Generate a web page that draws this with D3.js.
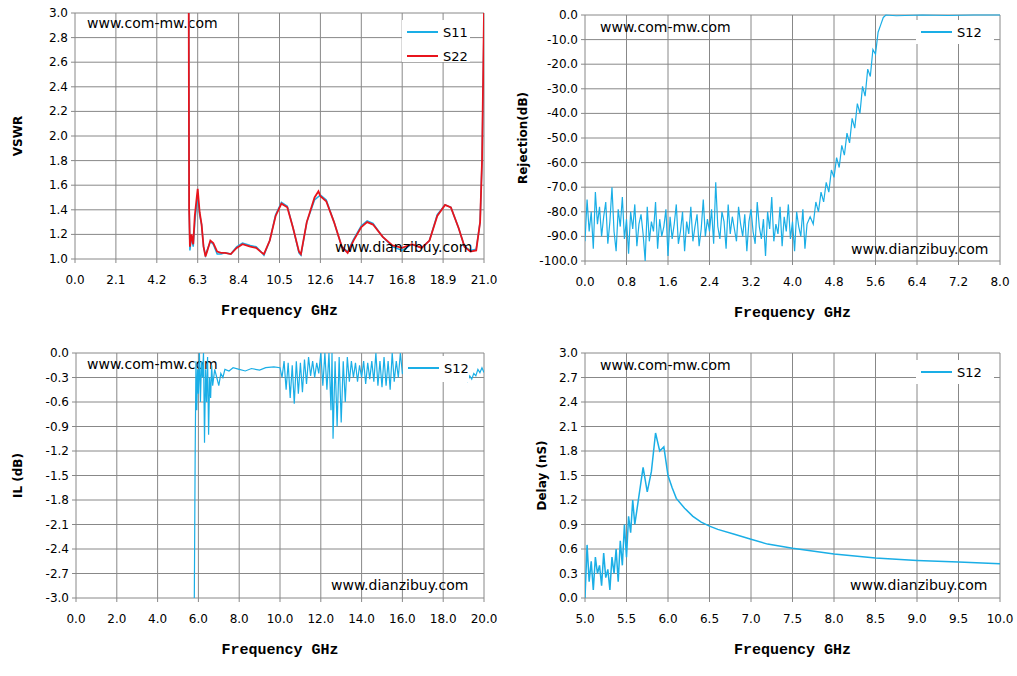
<!DOCTYPE html><html><head><meta charset="utf-8"><script src="https://cdn.jsdelivr.net/npm/d3@7"></script>
<style>body{margin:0;background:#fff}text{font-family:Tahoma,"DejaVu Sans",sans-serif}text.ax{font-family:"Liberation Mono",monospace}</style></head><body><svg id="c" width="1017" height="676"></svg><script>
const vswrTicksX=[0,2.1,4.2,6.3,8.4,10.5,12.6,14.7,16.8,18.9,21.0];
const s11=[[5.84,3.0],[5.86,1.45],[5.9,1.07],[5.98,1.18],[6.07,1.1],[6.15,1.3],[6.25,1.45],[6.3,1.5],[6.4,1.36],[6.5,1.28],[6.6,1.1],[6.7,1.03],[6.8,1.08],[6.95,1.14],[7.1,1.12],[7.3,1.04],[7.5,1.04],[7.7,1.05],[8.0,1.04],[8.3,1.1],[8.6,1.13],[9.0,1.11],[9.3,1.1],[9.6,1.05],[9.7,1.03],[10.0,1.15],[10.3,1.36],[10.6,1.46],[10.9,1.43],[11.2,1.25],[11.5,1.05],[11.6,1.03],[11.9,1.3],[12.3,1.48],[12.6,1.52],[12.9,1.48],[13.3,1.3],[13.7,1.1],[14.0,1.06],[14.3,1.16],[14.7,1.27],[15.0,1.31],[15.3,1.29],[15.8,1.18],[16.3,1.1],[16.8,1.07],[17.3,1.12],[17.8,1.09],[18.2,1.15],[18.6,1.36],[19.0,1.44],[19.3,1.42],[19.7,1.25],[20.0,1.1],[20.3,1.07],[20.6,1.08],[20.8,1.3],[20.9,1.8],[21.0,2.9]];
const s22=[[5.84,3.0],[5.86,1.4],[5.9,1.1],[5.98,1.2],[6.07,1.12],[6.15,1.35],[6.25,1.5],[6.3,1.57],[6.4,1.38],[6.5,1.28],[6.6,1.1],[6.7,1.02],[6.8,1.07],[6.95,1.15],[7.1,1.13],[7.3,1.06],[7.5,1.05],[7.7,1.05],[8.0,1.04],[8.3,1.09],[8.6,1.12],[9.0,1.1],[9.3,1.09],[9.6,1.05],[9.7,1.04],[10.0,1.15],[10.3,1.35],[10.6,1.45],[10.9,1.42],[11.2,1.25],[11.5,1.06],[11.6,1.04],[11.9,1.3],[12.3,1.5],[12.5,1.55],[12.6,1.51],[12.9,1.47],[13.3,1.3],[13.7,1.1],[14.0,1.05],[14.3,1.15],[14.7,1.26],[15.0,1.3],[15.3,1.28],[15.8,1.18],[16.3,1.11],[16.8,1.09],[17.3,1.12],[17.8,1.09],[18.2,1.15],[18.6,1.35],[19.0,1.44],[19.3,1.42],[19.7,1.25],[20.0,1.1],[20.3,1.06],[20.6,1.07],[20.8,1.3],[20.9,1.8],[21.0,3.0]];
const rejNoise=[-92,-75,-88,-80,-95,-72,-85,-78,-90,-82,-76,-93,-84,-70,-88,-96,-79,-86,-74,-91,-83,-97,-80,-87,-77,-94,-85,-81,-89,-100,-78,-92,-84,-88,-76,-95,-83,-90,-86,-79,-98,-82,-91,-85,-77,-93,-88,-80,-96,-84,-89,-78,-92,-86,-81,-94,-87,-75,-90,-83,-88,-79,-93,-68,-86,-91,-80,-84,-95,-77,-89,-82,-87,-92,-78,-85,-90,-81,-96,-84,-79,-88,-93,-76,-86,-91,-83,-98,-80,-87,-74,-92,-85,-89,-78,-94,-82,-88,-77,-91,-84,-96,-80,-86,-90,-79,-95,-85];
const rejRise=[[4.34,-82],[4.4,-85],[4.45,-76],[4.5,-80],[4.55,-72],[4.6,-76],[4.65,-68],[4.7,-72],[4.75,-63],[4.8,-66],[4.85,-58],[4.9,-62],[4.95,-53],[5.0,-57],[5.05,-48],[5.1,-52],[5.15,-42],[5.2,-46],[5.25,-36],[5.3,-40],[5.35,-29],[5.4,-33],[5.45,-22],[5.5,-25],[5.55,-14],[5.6,-16],[5.65,-7],[5.7,-4],[5.75,-1],[5.8,0],[6.0,-0.3],[6.5,0],[7.0,-0.2],[7.5,0],[8.0,0]];
const ilData=[[5.8,-3.0],[5.84,-1.3],[5.88,-0.1],[5.92,-0.7],[5.96,-0.2],[6.0,-0.5],[6.05,0],[6.1,-0.6],[6.15,-0.1],[6.2,-0.3],[6.25,0],[6.3,-1.1],[6.35,-0.2],[6.4,-0.6],[6.45,-0.05],[6.5,-1.0],[6.55,-0.3],[6.6,-0.55],[6.65,-0.15],[6.7,-0.4],[6.8,-0.2],[6.9,-0.3],[7.0,-0.4],[7.1,-0.25],[7.2,-0.3],[7.3,-0.2],[7.5,-0.22],[7.7,-0.18],[8.0,-0.2],[8.3,-0.22],[8.6,-0.19],[9.0,-0.21],[9.3,-0.18],[9.7,-0.17],[10.0,-0.18],[10.1,-0.3],[10.2,-0.1],[10.3,-0.45],[10.4,-0.12],[10.5,-0.55],[10.6,-0.15],[10.7,-0.62],[10.8,-0.1],[10.9,-0.5],[11.0,-0.12],[11.1,-0.48],[11.2,-0.08],[11.3,-0.38],[11.4,-0.05],[11.5,-0.28],[11.6,-0.1],[11.7,-0.3],[11.8,-0.12],[11.9,-0.25],[12.0,0],[12.1,-0.4],[12.2,0],[12.3,-0.45],[12.4,0],[12.5,-0.7],[12.55,0],[12.6,-1.05],[12.7,-0.1],[12.8,-0.9],[12.9,-0.05],[13.0,-0.85],[13.1,-0.1],[13.2,-0.6],[13.3,-0.05],[13.4,-0.35],[13.5,-0.1],[13.6,-0.3],[13.7,-0.12],[13.8,-0.35],[13.9,-0.15],[14.0,-0.3],[14.1,-0.1],[14.2,-0.38],[14.3,-0.12],[14.4,-0.32],[14.5,-0.1],[14.6,-0.35],[14.7,0],[14.8,-0.4],[14.9,-0.1],[15.0,-0.42],[15.1,-0.05],[15.2,-0.4],[15.3,-0.1],[15.4,-0.45],[15.5,0],[15.6,-0.35],[15.7,-0.1],[15.8,-0.3],[15.9,0],[16.0,-0.25],[16.5,-0.2],[17.5,-0.22],[18.5,-0.2],[19.2,-0.35],[19.3,-0.28],[19.4,-0.32],[19.5,-0.25],[19.6,-0.28],[19.7,-0.2],[19.8,-0.24],[19.9,-0.18],[20.0,-0.24]];
const dlyNoise=[0,0.65,0.2,0.45,0.1,0.5,0.3,0.4,0.15,0.55,0.25,0.35,0.1,0.5,0.3,0.6,0.2,0.7,0.4,0.9,0.5,1.0,0.8,1.2,0.9];
const dlyTail=[[5.7,1.6],[5.75,1.3],[5.8,1.55],[5.85,2.02],[5.9,1.8],[5.95,1.85],[6.0,1.5],[6.05,1.35],[6.1,1.22],[6.2,1.1],[6.3,1.0],[6.4,0.93],[6.5,0.88],[6.6,0.84],[6.8,0.78],[7.0,0.72],[7.2,0.66],[7.5,0.61],[8.0,0.54],[8.5,0.49],[9.0,0.46],[9.5,0.44],[10.0,0.42]];
const rejData=rejNoise.map((v,i)=>[i*0.04,v]).concat(rejRise);
const dlyData=dlyNoise.map((v,i)=>[5+i*0.025,v]).concat(dlyTail);
const svg=d3.select("#c");
function panel(o){
 const g=svg.append("g");
 const x=d3.scaleLinear().domain(o.xd).range([o.l,o.r]);
 const y=d3.scaleLinear().domain(o.yd).range([o.b,o.t]);
 const xt=o.xt, yt=o.yt;
 xt.forEach(v=>g.append("line").attr("x1",x(v)).attr("x2",x(v)).attr("y1",o.t).attr("y2",o.b+4).attr("stroke","#888"));
 yt.forEach(v=>g.append("line").attr("x1",o.l-4).attr("x2",o.r).attr("y1",y(v)).attr("y2",y(v)).attr("stroke","#888"));
 xt.forEach(v=>g.append("text").attr("x",x(v)).attr("y",o.b+25).attr("text-anchor","middle").attr("font-size",12).text(v.toFixed(1)));
 yt.forEach(v=>g.append("text").attr("x",o.l-7).attr("y",y(v)+4).attr("text-anchor","end").attr("font-size",12).text(v.toFixed(1)));
 g.append("text").attr("class","ax").attr("x",(o.l+o.r)/2).attr("y",o.b+56).attr("text-anchor","middle").attr("font-weight","bold").attr("font-size",15).text("Frequency GHz");
 g.append("text").attr("transform",`translate(${o.yl},${(o.t+o.b)/2}) rotate(-90)`).attr("text-anchor","middle").attr("font-weight","bold").attr("font-size",12).text(o.ytitle);
 g.append("text").attr("x",o.w1[0]).attr("y",o.w1[1]).attr("font-size",14).text("www.com-mw.com");
 const clip="cl"+o.id;
 g.append("clipPath").attr("id",clip).append("rect").attr("x",o.l).attr("y",o.t-1).attr("width",o.r-o.l).attr("height",o.b-o.t+2);
 const line=d3.line().x(d=>x(d[0])).y(d=>y(d[1]));
 o.series.forEach(s=>g.append("path").attr("clip-path",`url(#${clip})`).attr("d",line(s.d)).attr("fill","none").attr("stroke",s.c).attr("stroke-width",s.w||1.5));
 g.append("text").attr("x",o.w2[0]).attr("y",o.w2[1]).attr("font-size",14).text("www.dianzibuy.com");
 const L=o.leg;
 g.append("rect").attr("x",L[0]).attr("y",L[1]).attr("width",L[2]).attr("height",L[3]).attr("fill","#fff");
 o.series.forEach((s,i)=>{const yy=L[1]+12+i*24;
  g.append("line").attr("x1",L[0]+5).attr("x2",L[0]+36).attr("y1",yy).attr("y2",yy).attr("stroke",s.c).attr("stroke-width",2);
  g.append("text").attr("x",L[0]+41).attr("y",yy+5).attr("font-size",13).text(s.n);});
}
const blue="#1aaee6", red="#e8141c";
panel({id:1,l:75,r:484,t:13,b:259,xd:[0,21],yd:[1,3],xt:vswrTicksX,yt:d3.range(1,3.01,0.2),ytitle:"VSWR",yl:22,w1:[87,28],w2:[335,252],leg:[402,20,68,42],
 series:[{n:"S11",c:blue,d:s11},{n:"S22",c:red,d:s22,w:1.8}]});
panel({id:2,l:585,r:1000,t:15,b:261,xd:[0,8],yd:[-100,0],xt:d3.range(0,8.01,0.8),yt:d3.range(-100,0.1,10),ytitle:"Rejection(dB)",yl:527,w1:[600,32],w2:[851,254],leg:[916,20,78,24],
 series:[{n:"S12",c:blue,d:rejData,w:1.2}]});
panel({id:3,l:76,r:484,t:353,b:598,xd:[0,20],yd:[-3,0],xt:d3.range(0,20.01,2),yt:d3.range(-3,0.01,0.3),ytitle:"IL (dB)",yl:22,w1:[87,369],w2:[331,590],leg:[403,356,66,26],
 series:[{n:"S12",c:blue,d:ilData,w:1.2}]});
panel({id:4,l:585,r:1000,t:353,b:598,xd:[5,10],yd:[0,3],xt:d3.range(5,10.01,0.5),yt:d3.range(0,3.01,0.3),ytitle:"Delay (nS)",yl:546,w1:[600,370],w2:[850,590],leg:[916,360,78,24],
 series:[{n:"S12",c:blue,d:dlyData}]});
</script></body></html>
